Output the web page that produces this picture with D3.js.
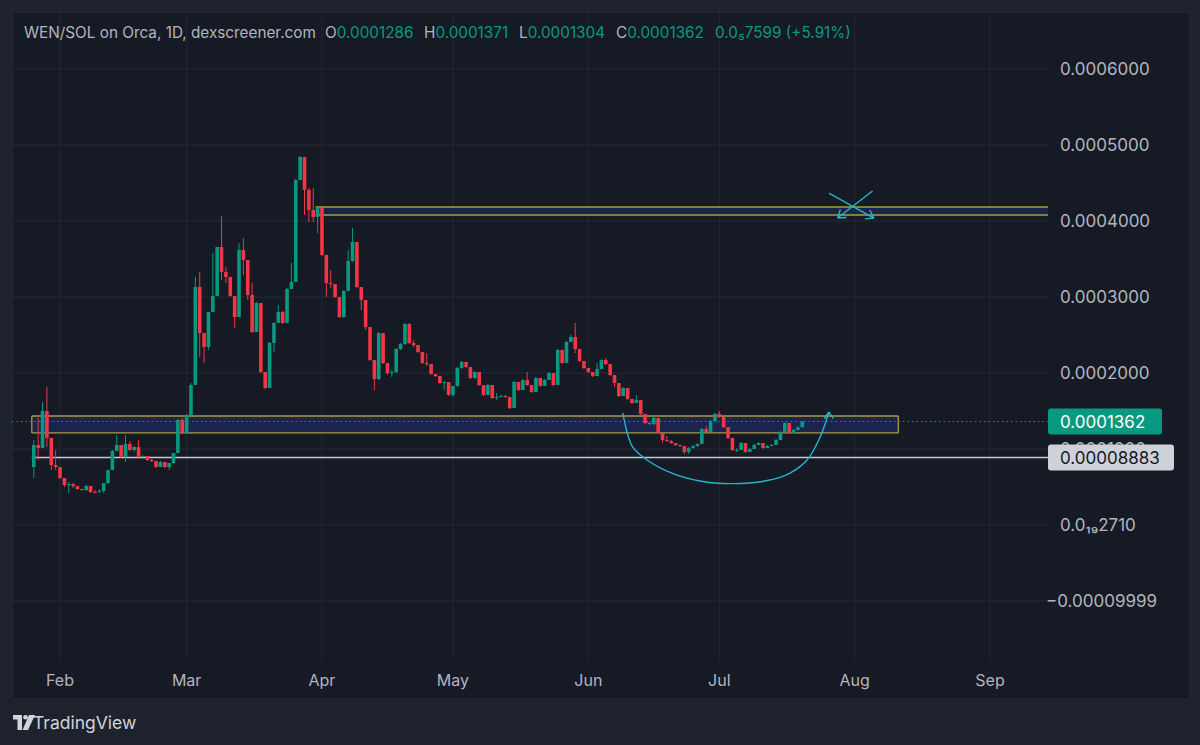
<!DOCTYPE html>
<html>
<head>
<meta charset="utf-8">
<script src="https://cdn.jsdelivr.net/npm/d3@7"></script>
<style>
  html, body { margin: 0; padding: 0; background: #1e222d; }
  svg { display: block; font-family: Inter, "Noto Sans", sans-serif; }
</style>
</head>
<body>
<script>
// WEN/SOL daily candles, prices in units of 1e-6 SOL, first candle = Jan 26 2024
var firstDay = new Date(2024, 0, 26);
var firstOpen = 76.3;
var closes = [
  105.3, 101.3, 150.0, 114.5, 78.9, 76.3, 61.8, 52.6, 53.9, 51.3,
  47.4, 46.1, 51.3, 43.4, 43.0, 44.7, 55.3, 72.4, 97.4, 105.3,
  89.5, 106.6, 98.7, 102.6, 89.5, 90.8, 85.5, 84.2, 76.3, 82.9,
  76.3, 81.6, 94.7, 138.2, 121.1, 144.7, 184.2, 313.2, 252.6, 234.2,
  280.3, 301.3, 365.8, 332.9, 326.3, 301.3, 273.7, 361.8, 348.7, 302.6,
  253.9, 292.1, 201.3, 180.3, 239.5, 265.8, 280.3, 265.8, 310.5, 319.7,
  453.9, 484.2, 440.8, 414.5, 405.3, 417.1, 355.3, 318.4, 317.1, 300.0,
  273.7, 307.9, 347.4, 372.4, 313.2, 296.1, 260.5, 217.1, 192.1, 252.6,
  213.2, 200.0, 201.3, 231.6, 238.2, 264.5, 239.5, 236.8, 227.6, 213.2,
  211.8, 198.7, 196.1, 186.8, 188.2, 171.1, 182.9, 206.6, 214.5, 207.9,
  193.4, 201.3, 184.2, 171.1, 184.2, 167.1, 168.4, 169.7, 168.4, 153.9,
  188.2, 177.6, 190.8, 184.2, 175.0, 193.4, 182.9, 190.8, 200.0, 184.2,
  230.3, 213.2, 240.8, 247.4, 231.6, 215.8, 206.6, 201.3, 196.1, 205.3,
  217.1, 211.8, 197.4, 186.8, 169.7, 180.3, 165.8, 160.5, 164.5, 146.1,
  134.2, 132.9, 140.8, 121.1, 111.8, 110.5, 107.9, 105.3, 103.9, 96.1,
  101.3, 103.9, 106.6, 126.3, 122.4, 136.8, 146.1, 142.1, 128.9, 114.5,
  98.7, 98.7, 107.9, 96.1, 100.0, 105.3, 107.9, 101.3, 103.9, 105.3,
  111.8, 122.4, 134.2, 121.1, 125.0, 128.6, 136.2
];
var highs = [
  111.8, 140.8, 161.8, 181.6, 114.5, 98.7, 76.3, 61.8, 56.6, 55.3,
  51.3, 47.4, 52.6, 51.3, 46.1, 47.4, 55.3, 72.4, 98.7, 118.4,
  105.3, 118.4, 110.5, 103.9, 111.8, 92.1, 90.8, 86.8, 84.2, 84.2,
  82.9, 81.6, 94.7, 139.5, 140.8, 146.1, 186.8, 326.3, 332.9, 252.6,
  280.3, 357.9, 365.8, 406.6, 339.5, 326.3, 301.3, 371.1, 377.6, 348.7,
  318.4, 293.4, 292.1, 201.3, 240.8, 267.1, 289.5, 281.6, 311.8, 344.7,
  455.3, 485.5, 484.2, 443.4, 443.4, 418.4, 417.1, 355.3, 335.5, 317.1,
  300.0, 309.2, 361.8, 390.8, 372.4, 313.2, 296.1, 260.5, 217.1, 253.9,
  252.6, 213.2, 203.9, 232.9, 239.5, 265.8, 265.8, 243.4, 236.8, 227.6,
  226.3, 211.8, 198.7, 196.1, 189.5, 188.2, 182.9, 207.9, 215.8, 214.5,
  207.9, 202.6, 201.3, 184.2, 185.5, 184.2, 173.7, 171.1, 171.1, 168.4,
  189.5, 188.2, 192.1, 201.3, 184.2, 194.7, 193.4, 192.1, 201.3, 200.0,
  231.6, 230.3, 242.1, 250.0, 265.8, 231.6, 215.8, 206.6, 201.3, 213.2,
  218.4, 219.7, 211.8, 197.4, 186.8, 181.6, 180.3, 165.8, 171.1, 164.5,
  146.1, 135.5, 142.1, 140.8, 121.1, 117.1, 111.8, 107.9, 105.3, 103.9,
  102.6, 105.3, 107.9, 127.6, 130.3, 138.2, 147.4, 150.0, 142.1, 128.9,
  114.5, 101.3, 109.2, 107.9, 101.3, 106.6, 109.2, 107.9, 105.3, 106.6,
  113.2, 123.7, 135.5, 134.2, 126.3, 129.9, 137.1
];
var lows = [
  61.8, 85.5, 101.3, 102.6, 72.4, 72.4, 60.5, 50.0, 42.1, 48.7,
  46.1, 44.7, 44.7, 42.1, 42.1, 43.4, 42.1, 53.9, 72.4, 97.4,
  88.2, 82.9, 97.4, 96.1, 88.2, 86.8, 84.2, 82.9, 75.0, 76.3,
  75.0, 72.4, 80.3, 94.7, 119.7, 121.1, 144.7, 184.2, 221.1, 213.2,
  230.3, 280.3, 301.3, 322.4, 318.4, 300.0, 259.2, 273.7, 328.9, 296.1,
  252.6, 253.9, 200.0, 178.9, 180.3, 227.6, 265.8, 264.5, 265.8, 310.5,
  319.7, 453.9, 407.9, 398.7, 398.7, 384.2, 353.9, 300.0, 311.8, 298.7,
  272.4, 272.4, 307.9, 346.1, 311.8, 282.9, 256.6, 215.8, 177.6, 190.8,
  211.8, 197.4, 194.7, 200.0, 230.3, 236.8, 238.2, 234.2, 226.3, 211.8,
  209.2, 197.4, 194.7, 185.5, 177.6, 169.7, 168.4, 181.6, 205.3, 206.6,
  192.1, 192.1, 182.9, 169.7, 171.1, 165.8, 164.5, 168.4, 167.1, 152.6,
  153.9, 176.3, 177.6, 182.9, 173.7, 175.0, 181.6, 182.9, 190.8, 182.9,
  184.2, 211.8, 213.2, 240.8, 226.3, 214.5, 205.3, 200.0, 194.7, 196.1,
  205.3, 210.5, 196.1, 181.6, 168.4, 169.7, 164.5, 159.2, 160.5, 144.7,
  132.9, 131.6, 131.6, 119.7, 107.9, 109.2, 106.6, 103.9, 102.6, 93.4,
  93.4, 100.0, 102.6, 106.6, 121.1, 122.4, 136.8, 140.8, 127.6, 113.2,
  97.4, 96.1, 98.7, 94.7, 96.1, 100.0, 105.3, 100.0, 101.3, 103.9,
  105.3, 111.8, 122.4, 119.7, 121.1, 124.5, 128.6
];

var priceTicks = [600, 500, 400, 300, 200, 100, 0, -100];
var priceTickLabels = ["0.0006000", "0.0005000", "0.0004000", "0.0003000", "0.0002000", "0.0001000", "0.0\u2081\u20892710", "\u22120.00009999"];
var monthTicks = [new Date(2024, 1, 1), new Date(2024, 2, 1), new Date(2024, 3, 1), new Date(2024, 4, 1),
                  new Date(2024, 5, 1), new Date(2024, 6, 1), new Date(2024, 7, 1), new Date(2024, 8, 1)];
var monthLabels = ["Feb", "Mar", "Apr", "May", "Jun", "Jul", "Aug", "Sep"];

var lastPrice = 136.2, lastLabel = "0.0001362";
var supportPrice = 88.83, supportLabel = "0.00008883";
// drawn zones: [start day index, end day index (null = to axis), top, bottom]
var lowerZone = [0, 198, 143.4, 121.1];
var upperZone = [65, null, 418.4, 407.9];
// cup drawing, [day index, price]
var cupPoints = [[134.9, 147.4], [137.0, 104.0], [139.5, 89.5], [145, 71.0], [152.6, 57.9], [160, 54.5],
                 [168, 58.5], [173.2, 68.4], [177.1, 85.5], [180.1, 115.8], [182.1, 148.7]];
// the crossed-out target
var crossA = [[182.1, 436.8], [192.4, 403.9]];
var crossB = [[192.1, 439.5], [184.1, 403.9]];

var W = 1200, H = 745;
var panel = {l: 12, t: 12, r: 1190, b: 699};
var plotR = 1048, plotB = 660;
var green = "#089981", red = "#f23645", txt = "#b2b5be";

var svg = d3.select("body").append("svg").attr("width", W).attr("height", H);
svg.append("rect").attr("width", W).attr("height", H).attr("fill", "#1e222d");
svg.append("rect").attr("x", panel.l).attr("y", panel.t).attr("width", panel.r - panel.l).attr("height", panel.b - panel.t)
  .attr("fill", "#161a25").attr("stroke", "#262a35");

var x = d3.scaleTime().domain([new Date(2024, 1, 1), new Date(2024, 8, 1)]).range([60, 990]);
var y = d3.scaleLinear().domain([0, 600]).range([525, 69]);
function dayX(i) { return x(new Date(firstDay.getTime() + i * 86400000)); }

var candles = closes.map(function (c, i) {
  return {i: i, o: i === 0 ? firstOpen : closes[i - 1], h: highs[i], l: lows[i], c: c};
});

// grid
var grid = svg.append("g");
grid.selectAll(".hg").data(priceTicks).enter().append("line")
  .attr("x1", panel.l).attr("x2", plotR).attr("y1", function (d) { return y(d); }).attr("y2", function (d) { return y(d); })
  .attr("stroke", "#242833").attr("stroke-width", 1);
grid.selectAll(".vg").data(monthTicks).enter().append("line")
  .attr("y1", panel.t).attr("y2", plotB).attr("x1", function (d) { return x(d); }).attr("x2", function (d) { return x(d); })
  .attr("stroke", "#242833").attr("stroke-width", 1);

// zones
function zone(z) {
  var x0 = dayX(z[0]) - 2, x1 = z[1] === null ? plotR : dayX(z[1]);
  svg.append("rect").attr("x", x0).attr("y", y(z[2])).attr("width", x1 - x0).attr("height", y(z[3]) - y(z[2]))
    .attr("fill", "#1b2754").attr("fill-opacity", 0.85);
  [z[2], z[3]].forEach(function (p) {
    svg.append("line").attr("x1", x0).attr("x2", x1).attr("y1", y(p)).attr("y2", y(p))
      .attr("stroke", "#a89c45").attr("stroke-width", 1.3);
  });
  if (z[1] !== null) {
    svg.append("line").attr("x1", x0).attr("x2", x0).attr("y1", y(z[2])).attr("y2", y(z[3])).attr("stroke", "#a89c45").attr("stroke-width", 1.3);
    svg.append("line").attr("x1", x1).attr("x2", x1).attr("y1", y(z[2])).attr("y2", y(z[3])).attr("stroke", "#a89c45").attr("stroke-width", 1.3);
  }
}
zone(lowerZone);
zone(upperZone);

// support line
svg.append("line").attr("x1", dayX(0) - 2).attr("x2", plotR).attr("y1", y(supportPrice)).attr("y2", y(supportPrice))
  .attr("stroke", "#c8cad2").attr("stroke-width", 1.5);

// last price dotted
svg.append("line").attr("x1", panel.l).attr("x2", plotR).attr("y1", y(lastPrice)).attr("y2", y(lastPrice))
  .attr("stroke", green).attr("stroke-width", 1).attr("stroke-dasharray", "1.5,3");

// candles
var bw = 3.6;
var cg = svg.append("g").selectAll("g").data(candles).enter().append("g");
cg.append("line")
  .attr("x1", function (d) { return dayX(d.i); }).attr("x2", function (d) { return dayX(d.i); })
  .attr("y1", function (d) { return y(d.h); }).attr("y2", function (d) { return y(d.l); })
  .attr("stroke", function (d) { return d.c >= d.o ? green : red; }).attr("stroke-width", 1);
cg.append("rect")
  .attr("x", function (d) { return dayX(d.i) - bw / 2; }).attr("width", bw)
  .attr("y", function (d) { return y(Math.max(d.o, d.c)); })
  .attr("height", function (d) { return Math.max(1, Math.abs(y(d.o) - y(d.c))); })
  .attr("fill", function (d) { return d.c >= d.o ? green : red; });

// hand-drawn annotations
var cyan = "#25b5c9";
var cupLine = d3.line().x(function (d) { return dayX(d[0]); }).y(function (d) { return y(d[1]); }).curve(d3.curveCatmullRom);
svg.append("path").attr("d", cupLine(cupPoints)).attr("fill", "none").attr("stroke", cyan).attr("stroke-width", 1.4);
function arrowHead(tip, from, len) {
  var ang = Math.atan2(tip[1] - from[1], tip[0] - from[0]);
  [-0.6, 0.6].forEach(function (a) {
    svg.append("line").attr("x1", tip[0]).attr("y1", tip[1])
      .attr("x2", tip[0] - len * Math.cos(ang + a)).attr("y2", tip[1] - len * Math.sin(ang + a))
      .attr("stroke", cyan).attr("stroke-width", 1.4);
  });
}
var cupTip = [dayX(cupPoints[cupPoints.length - 1][0]), y(cupPoints[cupPoints.length - 1][1])];
arrowHead(cupTip, [cupTip[0], cupTip[1] + 10], 8);
[crossA, crossB].forEach(function (seg) {
  var p0 = [dayX(seg[0][0]), y(seg[0][1])], p1 = [dayX(seg[1][0]), y(seg[1][1])];
  svg.append("line").attr("x1", p0[0]).attr("y1", p0[1]).attr("x2", p1[0]).attr("y2", p1[1])
    .attr("stroke", cyan).attr("stroke-width", 1.4);
  arrowHead(p1, p0, 9);
});

// price axis (the 0.0001000 label sits behind the price tags, as in the source)
svg.selectAll(".pl").data(priceTicks).enter().append("text")
  .attr("x", function (d) { return d < 0 ? 1046 : 1060; }).attr("y", function (d) { return y(d); }).attr("dy", "0.35em")
  .attr("fill", txt).attr("font-size", 17)
  .text(function (d, i) { return priceTickLabels[i]; });

function priceTag(p, label, bg, fg, w) {
  var g = svg.append("g");
  g.append("rect").attr("x", plotR).attr("y", y(p) - 13).attr("width", w).attr("height", 26).attr("rx", 3).attr("fill", bg);
  g.append("text").attr("x", plotR + 12).attr("y", y(p)).attr("dy", "0.36em").attr("fill", fg).attr("font-size", 17).text(label);
}
priceTag(lastPrice, lastLabel, "#089981", "#ffffff", 114);
priceTag(supportPrice, supportLabel, "#cfd1d8", "#131722", 126);

// time axis
svg.selectAll(".ml").data(monthTicks).enter().append("text")
  .attr("x", function (d) { return x(d); }).attr("y", 680).attr("dy", "0.35em").attr("text-anchor", "middle")
  .attr("fill", txt).attr("font-size", 16)
  .text(function (d, i) { return monthLabels[i]; });

// header
var hdr = svg.append("text").attr("x", 24).attr("y", 33).attr("dy", "0.35em").attr("font-size", 15.3).attr("fill", txt);
hdr.append("tspan").text("WEN/SOL on Orca, 1D, dexscreener.com");
[["O", "0.0001286", 325], ["H", "0.0001371", 424], ["L", "0.0001304", 519], ["C", "0.0001362", 616]].forEach(function (f) {
  hdr.append("tspan").attr("x", f[2]).text(f[0]);
  hdr.append("tspan").attr("fill", green).text(f[1]);
});
hdr.append("tspan").attr("x", 715).attr("fill", green).text("0.0\u20857599 (+5.91%)");

// TradingView logo
var logo = svg.append("g").attr("transform", "translate(13,715)").attr("fill", "#d1d4dc");
logo.append("path").attr("d", "M0 0 H9 V15 H4.5 V4.5 H0 Z");
logo.append("circle").attr("cx", 12.5).attr("cy", 2.3).attr("r", 2.3);
logo.append("path").attr("d", "M16 0 H22 L15 15 H9.5 Z");
svg.append("text").attr("x", 33).attr("y", 723).attr("dy", "0.35em").attr("font-size", 17.5).attr("fill", "#d1d4dc").text("TradingView");
</script>
</body>
</html>
